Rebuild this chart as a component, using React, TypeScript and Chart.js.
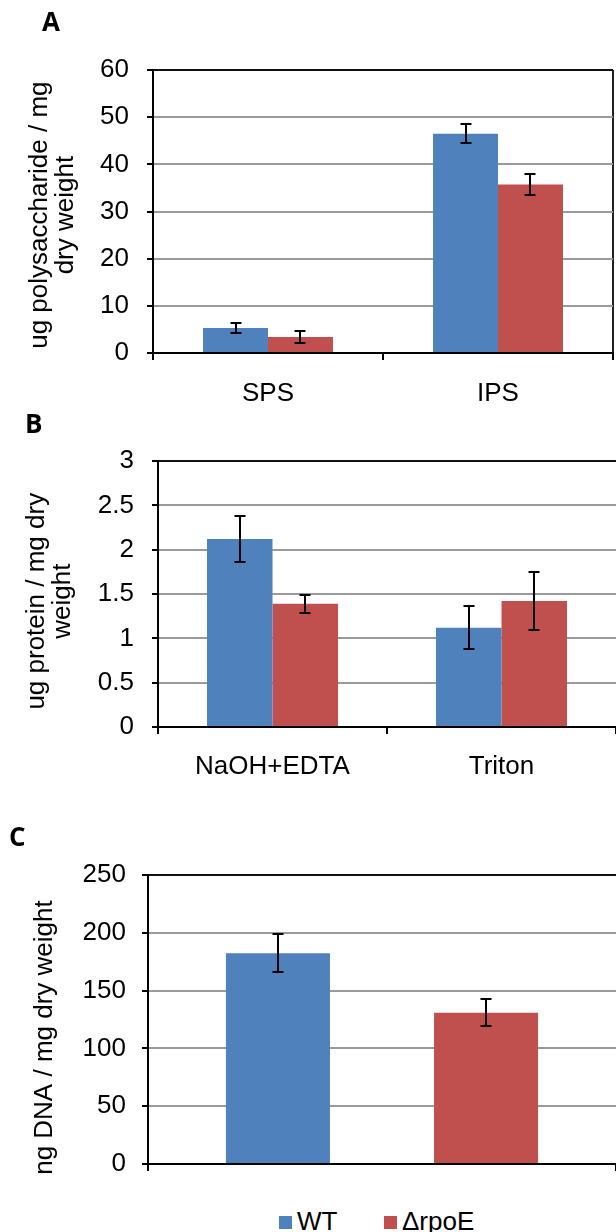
import React, { useEffect, useRef } from 'react';
import { Chart, registerables } from 'chart.js';

Chart.register(...registerables);

const FONT_FAMILY = "'Liberation Sans', Arial, sans-serif";
const WT_COLOR = '#4F81BD';
const RPOE_COLOR = '#C0504D';
const GRID_COLOR = '#9a9a9a';

const seriesNames = ['WT', 'ΔrpoE'];
const seriesColors = [WT_COLOR, RPOE_COLOR];
const panelLetters = ['A', 'B', 'C'];

// Panel A
const aCategories = ['SPS', 'IPS'];
const aWT = [5.3, 46.5];
const aWTErr = [1.1, 2.0];
const aRpoE = [3.4, 35.7];
const aRpoEErr = [1.25, 2.2];
const aYMax = 60;
const aYStep = 10;
const aYTitle = ['ug polysaccharide / mg ', 'dry weight '];

// Panel B
const bCategories = ['NaOH+EDTA', 'Triton'];
const bWT = [2.12, 1.12];
const bWTErr = [0.26, 0.24];
const bRpoE = [1.39, 1.42];
const bRpoEErr = [0.1, 0.33];
const bYMax = 3;
const bYStep = 0.5;
const bYTitle = ['ug protein / mg dry  ', 'weight  '];

// Panel C
const cCategories = [''];
const cWT = [182.4];
const cWTErr = [16.6];
const cRpoE = [130.9];
const cRpoEErr = [11.8];
const cYMax = 250;
const cYStep = 50;
const cYTitle = 'ng DNA / mg dry weight     ';

const errorBarPlugin = {
  id: 'errorBars',
  afterDatasetsDraw(chart: any, _args: any, opts: any) {
    const errors = (opts && opts.errors) || [];
    const yScale = chart.scales.y;
    const ctx = chart.ctx;
    ctx.save();
    ctx.strokeStyle = '#000';
    ctx.lineWidth = 2;
    chart.data.datasets.forEach((ds: any, di: number) => {
      const errs = errors[di];
      if (!errs) return;
      const meta = chart.getDatasetMeta(di);
      meta.data.forEach((bar: any, i: number) => {
        const v = ds.data[i];
        const e = errs[i];
        if (v == null || e == null) return;
        const x = Math.round(bar.x);
        const yTop = Math.round(yScale.getPixelForValue(v + e));
        const yBot = Math.round(yScale.getPixelForValue(v - e));
        const cap = 5.5;
        ctx.beginPath();
        ctx.moveTo(x, yTop);
        ctx.lineTo(x, yBot);
        ctx.moveTo(x - cap, yTop);
        ctx.lineTo(x + cap, yTop);
        ctx.moveTo(x - cap, yBot);
        ctx.lineTo(x + cap, yBot);
        ctx.stroke();
      });
    });
    ctx.restore();
  },
};

interface PanelSpec {
  categories: string[];
  datasets: { label: string; data: (number | null)[]; color: string }[];
  errors: (number[] | null)[];
  yMax: number;
  yStep: number;
  yTitle: string | string[];
  yTitlePad: number;
  yAxisWidth: number;
  yTickPad: number;
  xAxisHeight: number;
  xTickPad: number;
  showXLabels: boolean;
  padding: { top: number; right: number; bottom: number; left: number };
  rightBorder: boolean;
  categoryPercentage: number;
}

function buildConfig(p: PanelSpec): any {
  return {
    type: 'bar',
    data: {
      labels: p.categories,
      datasets: p.datasets.map((d) => ({
        label: d.label,
        data: d.data,
        backgroundColor: d.color,
        borderWidth: 0,
        barPercentage: 1,
        categoryPercentage: p.categoryPercentage,
      })),
    },
    options: {
      responsive: false,
      animation: false,
      layout: { padding: p.padding },
      plugins: {
        legend: { display: false },
        tooltip: { enabled: false },
        errorBars: { errors: p.errors },
      },
      scales: {
        x: {
          type: 'category',
          offset: true,
          grid: {
            offset: true,
            drawOnChartArea: true,
            color: (c: any) =>
              c.type === 'scale' && p.rightBorder ? '#222' : 'rgba(0,0,0,0)',
            lineWidth: 2,
            tickLength: 7,
            tickColor: '#000',
            tickWidth: 2,
          },
          border: { display: true, color: '#000', width: 2 },
          ticks: {
            display: p.showXLabels,
            color: '#000',
            padding: p.xTickPad,
            font: { family: FONT_FAMILY, size: 26 },
            maxRotation: 0,
          },
          afterFit: (s: any) => {
            s.height = p.xAxisHeight;
          },
        },
        y: {
          min: 0,
          max: p.yMax,
          ticks: {
            stepSize: p.yStep,
            color: '#000',
            padding: p.yTickPad,
            font: { family: FONT_FAMILY, size: 26 },
            callback: (v: any) => String(Math.round(Number(v) * 100) / 100),
          },
          grid: {
            color: (c: any) => {
              if (!c.tick) return GRID_COLOR;
              if (c.tick.value === 0) return 'rgba(0,0,0,0)';
              if (c.tick.value === p.yMax) return '#111';
              return GRID_COLOR;
            },
            lineWidth: 2,
            tickLength: 6,
            tickColor: '#000',
            tickWidth: 2,
          },
          border: { display: true, color: '#000', width: 2 },
          title: {
            display: true,
            text: p.yTitle,
            color: '#000',
            font: { family: FONT_FAMILY, size: 26, lineHeight: 1.0 },
            padding: { top: p.yTitlePad, bottom: 0 },
          },
          afterFit: (s: any) => {
            s.width = p.yAxisWidth;
          },
        },
      },
    },
    plugins: [errorBarPlugin],
  };
}

const panelA: PanelSpec = {
  categories: aCategories,
  datasets: [
    { label: seriesNames[0], data: aWT, color: WT_COLOR },
    { label: seriesNames[1], data: aRpoE, color: RPOE_COLOR },
  ],
  errors: [aWTErr, aRpoEErr],
  yMax: aYMax,
  yStep: aYStep,
  yTitle: aYTitle,
  yTitlePad: 27,
  yAxisWidth: 153,
  yTickPad: 18,
  xAxisHeight: 57,
  xTickPad: 18,
  showXLabels: true,
  padding: { top: 70, right: 3, bottom: 0, left: 0 },
  rightBorder: true,
  categoryPercentage: 0.565,
};

const panelB: PanelSpec = {
  categories: bCategories,
  datasets: [
    { label: seriesNames[0], data: bWT, color: WT_COLOR },
    { label: seriesNames[1], data: bRpoE, color: RPOE_COLOR },
  ],
  errors: [bWTErr, bRpoEErr],
  yMax: bYMax,
  yStep: bYStep,
  yTitle: bYTitle,
  yTitlePad: 24,
  yAxisWidth: 158,
  yTickPad: 18,
  xAxisHeight: 93,
  xTickPad: 17,
  showXLabels: true,
  padding: { top: 51, right: 0, bottom: 0, left: 0 },
  rightBorder: false,
  categoryPercentage: 0.572,
};

const panelC: PanelSpec = {
  categories: cCategories,
  datasets: [
    { label: seriesNames[0], data: cWT, color: WT_COLOR },
    { label: '', data: [null], color: 'rgba(0,0,0,0)' },
    { label: seriesNames[1], data: cRpoE, color: RPOE_COLOR },
  ],
  errors: [cWTErr, null, cRpoEErr],
  yMax: cYMax,
  yStep: cYStep,
  yTitle: cYTitle,
  yTitlePad: 32,
  yAxisWidth: 148,
  yTickPad: 16,
  xAxisHeight: 36,
  xTickPad: 0,
  showXLabels: false,
  padding: { top: 55, right: 0, bottom: 0, left: 0 },
  rightBorder: false,
  categoryPercentage: 0.667,
};

export default function App() {
  const aRef = useRef<HTMLCanvasElement>(null);
  const bRef = useRef<HTMLCanvasElement>(null);
  const cRef = useRef<HTMLCanvasElement>(null);

  useEffect(() => {
    const charts: Chart[] = [];
    if (aRef.current) charts.push(new Chart(aRef.current, buildConfig(panelA)));
    if (bRef.current) charts.push(new Chart(bRef.current, buildConfig(panelB)));
    if (cRef.current) charts.push(new Chart(cRef.current, buildConfig(panelC)));
    return () => charts.forEach((c) => c.destroy());
  }, []);

  const letterStyle = (left: number, top: number): React.CSSProperties => ({
    position: 'absolute',
    left,
    top,
    fontFamily: "'Open Sans', 'DejaVu Sans', sans-serif",
    fontWeight: 700,
    fontSize: 26,
    lineHeight: '26px',
    color: '#000',
  });

  const legendLeft = [279, 384];

  return (
    <div
      style={{
        position: 'absolute',
        left: 0,
        top: 0,
        width: 616,
        height: 1232,
        overflow: 'hidden',
        background: '#fff',
      }}
    >
      <canvas ref={aRef} width={616} height={410} style={{ position: 'absolute', left: 0, top: 0 }} />
      <canvas ref={bRef} width={616} height={410} style={{ position: 'absolute', left: 0, top: 410 }} />
      <canvas ref={cRef} width={616} height={380} style={{ position: 'absolute', left: 0, top: 820 }} />
      <div style={letterStyle(42, 8)}>{panelLetters[0]}</div>
      <div style={letterStyle(25, 410)}>{panelLetters[1]}</div>
      <div style={letterStyle(9, 823)}>{panelLetters[2]}</div>
      {seriesNames.map((name, i) => (
        <div
          key={name}
          style={{
            position: 'absolute',
            left: legendLeft[i],
            top: 1208,
            height: 26,
            display: 'flex',
            alignItems: 'center',
            whiteSpace: 'nowrap',
            fontFamily: FONT_FAMILY,
            fontSize: 26,
            lineHeight: '26px',
            color: '#000',
          }}
        >
          <span
            style={{
              display: 'inline-block',
              width: 13,
              height: 13,
              background: seriesColors[i],
              marginRight: 5,
              marginTop: 3,
            }}
          />
          <span>{name}</span>
        </div>
      ))}
    </div>
  );
}
